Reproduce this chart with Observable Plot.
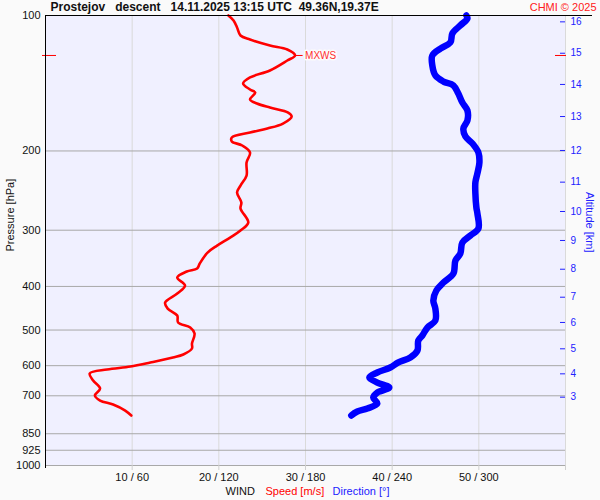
<!DOCTYPE html>
<html>
<head>
<meta charset="utf-8">
<script src="https://cdn.jsdelivr.net/npm/d3@7"></script>
<script src="https://cdn.jsdelivr.net/npm/@observablehq/plot@0.6"></script>
<style>
  html, body { margin: 0; padding: 0; background: #fafafa; }
  #chart svg { display: block; }
</style>
</head>
<body>
<div id="chart"></div>
<script>
// ---- data ----
const titleText = "Prostejov   descent   14.11.2025 13:15 UTC  49.36N,19.37E";
const creditText = "CHMI © 2025";

// wind speed profile: pressure [hPa] and speed [m/s]
const speedP = [100, 102.6, 106.3, 110.8, 113.1, 116.6, 119.0, 122.7, 125.9, 132.5, 137.3, 141.6, 146.0, 148.3, 153.7, 156.9, 160.2, 164.3, 167.7, 173.8, 178.3, 182.0, 186.7, 190.5, 194.5, 201.6, 212.2, 226.8, 238.7, 247.4, 260.3, 268.5, 288.4, 300.5, 311.5, 324.6, 336.4, 355.8, 365.0, 370.7, 382.2, 398.1, 414.8, 434.5, 448.0, 464.2, 481.1, 493.6, 509.0, 535.8, 549.5, 566.6, 575.4, 590.3, 602.6, 611.9, 624.6, 647.4, 674.5, 699.0, 717.2, 732.1, 755.0, 774.3];
const speed  = [21.1, 21.7, 22.1, 22.5, 23.6, 25.9, 27.9, 28.8, 27.9, 25.9, 23.6, 22.8, 23.6, 24.2, 23.6, 24.4, 25.9, 28.0, 28.4, 27.4, 25.6, 23.6, 21.5, 21.5, 22.7, 23.6, 23.2, 23.2, 22.5, 22.1, 22.6, 22.5, 23.4, 22.5, 21.3, 19.8, 18.7, 17.8, 17.5, 16.3, 15.2, 16.1, 15.2, 13.8, 14.1, 15.2, 15.3, 16.7, 17.2, 16.9, 16.9, 15.9, 14.7, 12.1, 9.8, 7.1, 5.1, 5.5, 6.3, 5.7, 6.3, 7.8, 9.2, 9.9];

// wind direction profile: pressure [hPa] and direction [deg]
const dirP = [100, 101.5, 105.2, 109.6, 114.8, 118.4, 122.7, 129.2, 135.9, 140.2, 143.0, 149.1, 156.1, 162.6, 171.2, 178.3, 185.7, 192.5, 201.6, 212.2, 224.4, 235.0, 248.6, 267.1, 275.4, 297.4, 308.3, 319.6, 338.1, 350.4, 374.5, 392.2, 408.4, 430.0, 448.0, 476.2, 493.6, 514.2, 527.6, 555.2, 575.4, 590.3, 605.7, 621.4, 637.5, 654.1, 671.0, 688.4, 706.3, 728.3, 747.2, 758.6, 774.3];
const direction = [291.4, 292.1, 287.2, 281.7, 280.3, 273.4, 267.8, 267.8, 269.9, 275.5, 282.4, 285.8, 288.6, 292.1, 292.1, 289.3, 290.7, 295.6, 299.7, 300.4, 299.0, 297.6, 297.6, 298.3, 299.0, 299.7, 294.2, 288.6, 287.2, 283.8, 282.4, 275.5, 270.6, 268.5, 269.9, 269.9, 264.4, 260.9, 258.1, 257.5, 252.6, 244.3, 238.7, 229.7, 224.2, 229.7, 238.0, 229.7, 226.9, 229.7, 222.8, 215.9, 211.7];

// maximum wind
const maxWindP = [122.7];
const maxWindSpeed = [28.8];
const maxWindLabel = "MXWS";

// axes
const pressureTicks = [100, 200, 300, 400, 500, 600, 700, 850, 925, 1000];
const speedTicks = [10, 20, 30, 40, 50, 60];
const altKm = [3, 4, 5, 6, 7, 8, 9, 10, 11, 12, 13, 14, 15, 16];
const altP  = [705, 625.6, 550.4, 481, 422.7, 366.3, 316.2, 272.6, 234.6, 199.5, 167.7, 142.3, 121.3, 103.3];

// ---- tables built from the arrays ----
const speedData = speedP.map((p, i) => ({p, v: speed[i]}));
const dirData = dirP.map((p, i) => ({p, d: direction[i]}));
const altData = altP.map((p, i) => ({p, km: altKm[i]}));
const maxWind = maxWindP.map((p, i) => ({p, v: maxWindSpeed[i]}));

const font = "'Liberation Sans', Arial, Helvetica, sans-serif";

const chart = Plot.plot({
  width: 600,
  height: 500,
  marginLeft: 45,
  marginRight: 35,
  marginTop: 15,
  marginBottom: 35,
  style: `background:#fafafa; font-family:${font}; white-space:pre; overflow:visible;`,
  x: {domain: [0, 60], label: null},     // speed m/s; direction shares the axis (360° ↔ 60)
  y: {type: "log", domain: [100, 1000], reverse: true, label: null},
  marks: [
    Plot.frame({fill: "#f0f0ff", stroke: null}),
    Plot.gridX(speedTicks, {stroke: "#dadada", strokeOpacity: 1}),
    Plot.gridY(pressureTicks.filter(p => p > 100), {stroke: "#a8a8a8", strokeOpacity: 1}),
    Plot.axisX(speedTicks, {
      tickSize: 5, stroke: "#d0d0d0", tickPadding: 3, fontSize: 11, fill: "#111",
      tickFormat: d => d >= 60 ? "" : `${d} / ${d * 6}`
    }),
    Plot.axisY(pressureTicks, {tickSize: 0, tickPadding: 5, fontSize: 11, fill: "#111", tickFormat: d => String(d)}),
    // direction profile (blue, thick)
    Plot.line(dirData, {
      x: d => d.d / 6, y: "p", stroke: "#0000ff", strokeWidth: 6.5,
      strokeLinecap: "round", strokeLinejoin: "round", curve: "catmull-rom"
    }),
    // speed profile (red)
    Plot.line(speedData, {
      x: "v", y: "p", stroke: "#ff0000", strokeWidth: 2.6,
      strokeLinejoin: "round", curve: "catmull-rom"
    }),
    // max wind markers
    Plot.ruleY(maxWind, {y: "p", x1: "v", x2: "v", insetRight: -8, stroke: "#ff0000"}),
    Plot.ruleY(maxWind, {y: "p", insetLeft: -3, insetRight: 509, stroke: "#ff0000", strokeWidth: 1}),
    Plot.ruleY(maxWind, {y: "p", insetLeft: 510, insetRight: -1, stroke: "#ff0000", strokeWidth: 1}),
    Plot.text(maxWind, {
      x: "v", y: "p", text: () => maxWindLabel, dx: 10, textAnchor: "start",
      fill: "#ff3030", fontSize: 10, stroke: "#fcfcfc", strokeWidth: 3
    }),
    // axis lines
    Plot.ruleX([0], {stroke: "black", insetBottom: -3}),
    Plot.ruleY([100], {stroke: "black", insetRight: -27}),
    // altitude scale
    Plot.ruleY(altData, {y: "p", insetLeft: 515, stroke: "#2020ff", strokeWidth: 1}),
    Plot.text(altData, {
      y: "p", text: d => String(d.km), frameAnchor: "right", dx: 5,
      textAnchor: "start", fill: "#2222ff", fontSize: 10
    }),
    Plot.text(["Altitude [km]"], {
      frameAnchor: "right", dx: 24, dy: 12, rotate: 90, fill: "#2222ff", fontSize: 11
    }),
    Plot.text(["Pressure [hPa]"], {
      frameAnchor: "left", dx: -35, dy: 11, rotate: -90, fill: "#111", fontSize: 11
    }),
    // title and credit
    Plot.text([titleText], {
      frameAnchor: "top-left", dx: 5, dy: -8, textAnchor: "start", lineAnchor: "middle",
      fill: "#111", fontSize: 12, fontWeight: "bold"
    }),
    Plot.text([creditText], {
      frameAnchor: "top-right", dx: 31, dy: -8, textAnchor: "end", lineAnchor: "middle",
      fill: "#ff2020", fontSize: 11
    }),
    // bottom legend
    Plot.text(["WIND"], {
      frameAnchor: "bottom", dx: -80, dy: 26, textAnchor: "start", lineAnchor: "middle",
      fill: "#111", fontSize: 11
    }),
    Plot.text(["Speed [m/s]"], {
      frameAnchor: "bottom", dx: -40, dy: 26, textAnchor: "start", lineAnchor: "middle",
      fill: "#ff0000", fontSize: 11
    }),
    Plot.text(["Direction [°]"], {
      frameAnchor: "bottom", dx: 27, dy: 26, textAnchor: "start", lineAnchor: "middle",
      fill: "#2222ff", fontSize: 11
    })
  ]
});

document.getElementById("chart").appendChild(chart);
</script>
</body>
</html>
